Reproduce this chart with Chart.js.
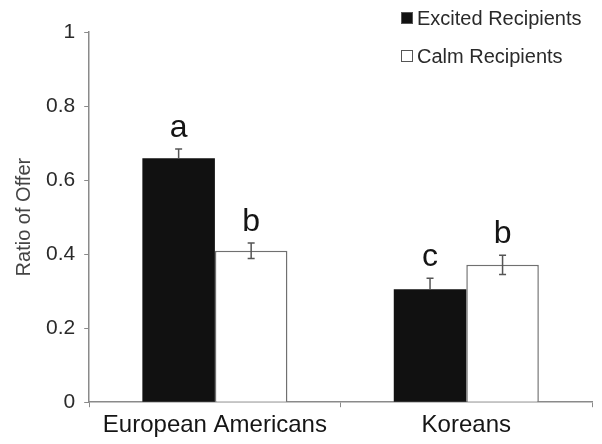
<!DOCTYPE html>
<html>
<head>
<meta charset="utf-8">
<script src="https://cdn.jsdelivr.net/npm/chart.js@4"></script>
<style>
  html, body { margin: 0; padding: 0; background: #fff; }
  #wrap { width: 602px; height: 444px; position: relative; }
</style>
</head>
<body>
<div id="wrap"><canvas id="chart"></canvas></div>
<script>
const groups = ["European Americans", "Koreans"];
const seriesNames = ["Excited Recipients", "Calm Recipients"];
const excited = [0.659, 0.305];
const calm = [0.409, 0.371];
const excitedErr = [0.025, 0.030];
const calmErr = [0.021, 0.026];
const excitedLetters = ["a", "c"];
const calmLetters = ["b", "b"];
const yTicks = [0, 0.2, 0.4, 0.6, 0.8, 1];

const axisColor = "#8a8a8a";
const textColor = "#2a2a2a";
const fontFamily = "'Liberation Sans', Arial, sans-serif";

// error bars + significance letters, read from the dataset values
const errorBars = {
  id: "errorBars",
  afterDatasetsDraw(chart) {
    const ctx = chart.ctx;
    const y = chart.scales.y;
    const errs = [excitedErr, calmErr];
    const letters = [excitedLetters, calmLetters];
    chart.data.datasets.forEach((ds, di) => {
      const meta = chart.getDatasetMeta(di);
      meta.data.forEach((bar, i) => {
        const v = ds.data[i];
        const e = errs[di][i];
        const top = y.getPixelForValue(v + e);
        const bot = y.getPixelForValue(v - e);
        ctx.save();
        ctx.strokeStyle = "#555";
        ctx.lineWidth = 1.5;
        ctx.beginPath();
        ctx.moveTo(bar.x, top);
        ctx.lineTo(bar.x, di === 0 ? y.getPixelForValue(v) : bot);
        ctx.moveTo(bar.x - 3.5, top);
        ctx.lineTo(bar.x + 3.5, top);
        if (di === 1) {
          ctx.moveTo(bar.x - 3.5, bot);
          ctx.lineTo(bar.x + 3.5, bot);
        }
        ctx.stroke();
        ctx.fillStyle = "#151515";
        ctx.font = "32px " + fontFamily;
        ctx.textAlign = "center";
        ctx.textBaseline = "alphabetic";
        ctx.fillText(letters[di][i], bar.x, top - 12);
        ctx.restore();
      });
    });
  }
};

// legend drawn as square markers at the top right
const squareLegend = {
  id: "squareLegend",
  afterDraw(chart) {
    const ctx = chart.ctx;
    ctx.save();
    ctx.font = "20px " + fontFamily;
    ctx.textBaseline = "middle";
    chart.data.datasets.forEach((ds, i) => {
      const yy = 18 + i * 38;
      ctx.fillStyle = ds.backgroundColor;
      ctx.strokeStyle = "#555";
      ctx.lineWidth = 1;
      ctx.fillRect(401, yy - 6, 12, 12);
      ctx.strokeRect(401.5, yy - 5.5, 11, 11);
      ctx.fillStyle = textColor;
      ctx.fillText(ds.label, 417, yy + 1);
    });
    ctx.restore();
  }
};

new Chart(document.getElementById("chart"), {
  type: "bar",
  data: {
    labels: groups,
    datasets: [
      {
        label: seriesNames[0],
        data: excited,
        backgroundColor: "#111111",
        borderColor: "#111111",
        borderWidth: 0
      },
      {
        label: seriesNames[1],
        data: calm,
        backgroundColor: "#ffffff",
        borderColor: "#707070",
        borderWidth: 1.5
      }
    ]
  },
  options: {
    responsive: true,
    maintainAspectRatio: false,
    animation: false,
    categoryPercentage: 0.577,
    barPercentage: 1,
    layout: { padding: { top: 32, right: 10, bottom: 0, left: 4 } },
    plugins: {
      legend: { display: false },
      tooltip: { enabled: false }
    },
    scales: {
      x: {
        grid: {
          display: true,
          drawOnChartArea: false,
          drawTicks: true,
          tickLength: 5,
          color: axisColor
        },
        border: { color: axisColor, width: 1.5 },
        ticks: {
          color: "#151515",
          font: { family: fontFamily, size: 24 },
          padding: 4
        }
      },
      y: {
        min: 0,
        max: 1,
        afterBuildTicks(scale) {
          scale.ticks = yTicks.map(v => ({ value: v }));
        },
        grid: {
          display: true,
          drawOnChartArea: false,
          drawTicks: true,
          tickLength: 5,
          color: axisColor
        },
        border: { color: axisColor, width: 1.5 },
        ticks: {
          color: textColor,
          font: { family: fontFamily, size: 21 },
          padding: 9,
          callback: v => String(v)
        },
        title: {
          display: true,
          text: "Ratio of Offer",
          color: "#444",
          font: { family: fontFamily, size: 20 },
          padding: { top: 8, bottom: 1 }
        }
      }
    }
  },
  plugins: [errorBars, squareLegend]
});
</script>
</body>
</html>
